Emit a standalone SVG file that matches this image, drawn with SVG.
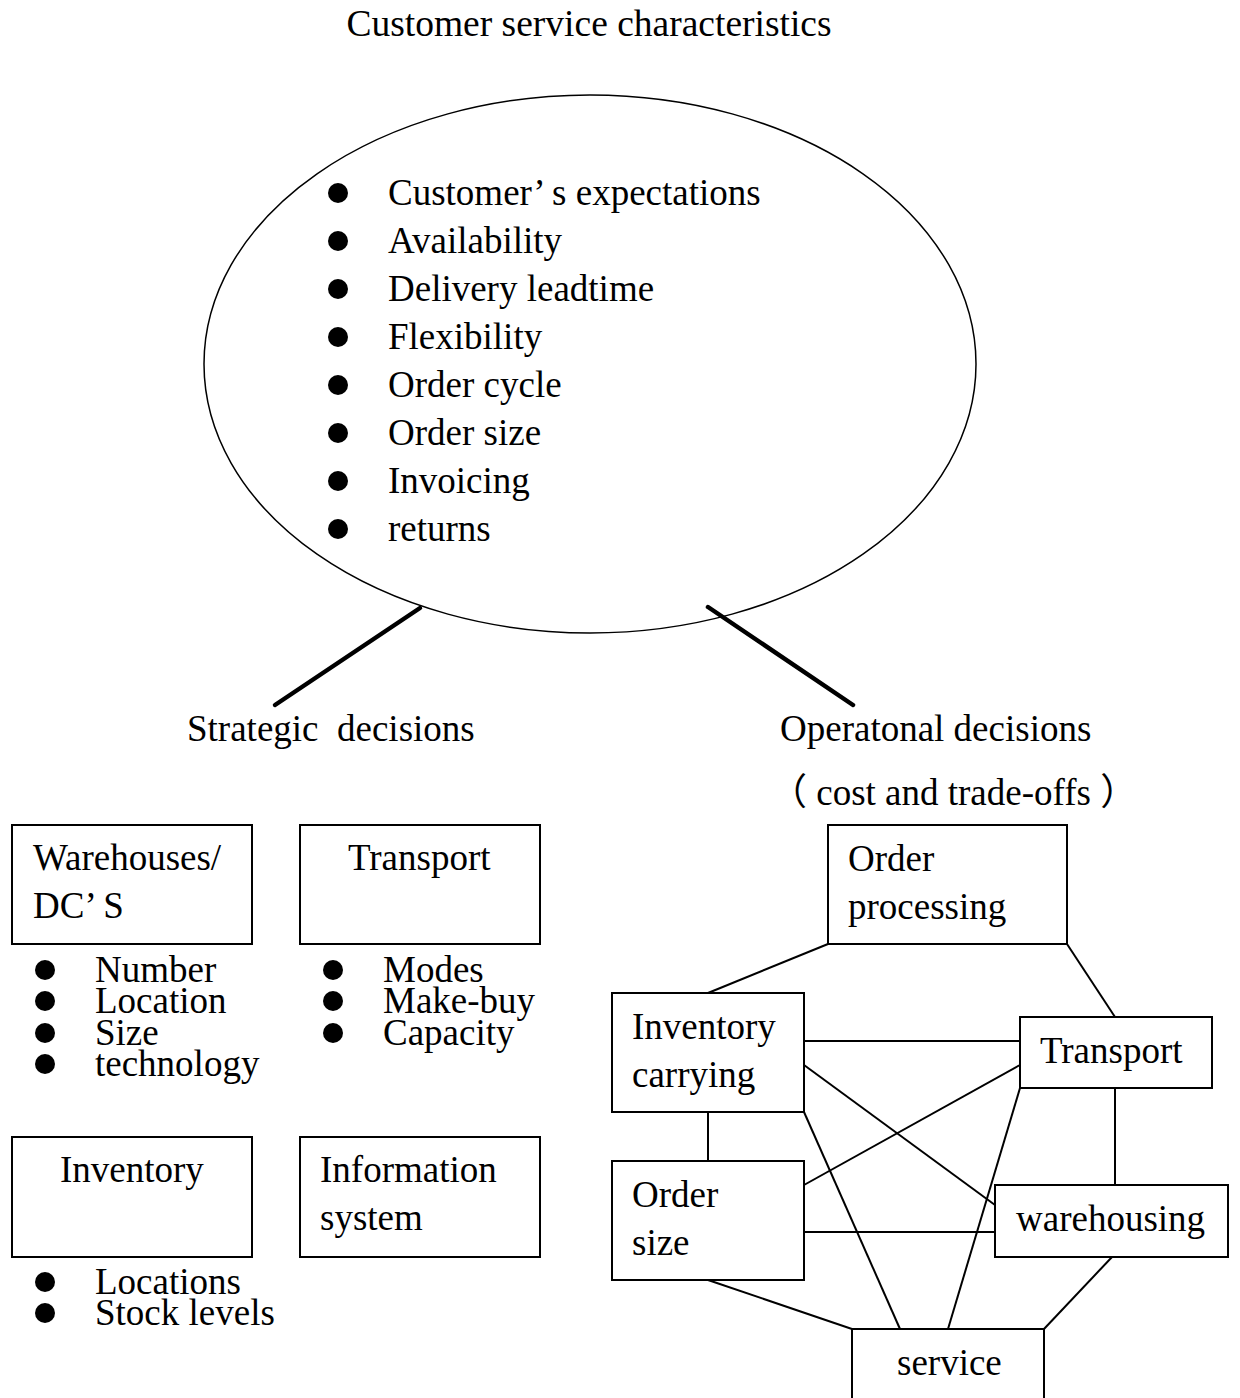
<svg xmlns="http://www.w3.org/2000/svg" width="1240" height="1398" viewBox="0 0 1240 1398">
  <style>
    text { font-family: "Liberation Serif", "Times New Roman", "Noto Sans CJK SC", serif; font-size: 37px; fill: #000; }
    .title { font-size: 37.5px; }
    .box { fill: #fff; stroke: #000; stroke-width: 2; }
    .link { stroke: #000; stroke-width: 2; fill: none; }
    .stem { stroke: #000; stroke-width: 4.5; stroke-linecap: round; fill: none; }
    .dot { fill: #000; }
  </style>
  <defs>
    <circle id="bullet" r="10" class="dot"/>
  </defs>
  <rect width="1240" height="1398" fill="#fff"/>

  <text class="title" x="589" y="36" text-anchor="middle">Customer service characteristics</text>

  <!-- customer service characteristics -->
  <g id="characteristics">
    <ellipse cx="590" cy="364" rx="386" ry="269" fill="none" stroke="#000" stroke-width="1.5"/>
    <use href="#bullet" x="338" y="193"/>
    <use href="#bullet" x="338" y="241"/>
    <use href="#bullet" x="338" y="289"/>
    <use href="#bullet" x="338" y="337"/>
    <use href="#bullet" x="338" y="385"/>
    <use href="#bullet" x="338" y="433"/>
    <use href="#bullet" x="338" y="481"/>
    <use href="#bullet" x="338" y="529"/>
    <text x="388" y="205">Customer’ s expectations</text>
    <text x="388" y="253">Availability</text>
    <text x="388" y="301">Delivery leadtime</text>
    <text x="388" y="349">Flexibility</text>
    <text x="388" y="397">Order cycle</text>
    <text x="388" y="445">Order size</text>
    <text x="388" y="493">Invoicing</text>
    <text x="388" y="541">returns</text>
  </g>

  <!-- branches to the two decision groups -->
  <g id="branches">
    <line class="stem" x1="420" y1="608" x2="275" y2="705"/>
    <line class="stem" x1="708" y1="607" x2="853" y2="705"/>
  </g>

  <text x="187" y="741" xml:space="preserve">Strategic  decisions</text>
  <text x="780" y="741">Operatonal decisions</text>
  <text x="770" y="805">（ cost and trade-offs ）</text>

  <!-- strategic decisions -->
  <g id="warehouses">
    <rect class="box" x="12" y="825" width="240" height="119"/>
    <text x="33" y="870">Warehouses/</text>
    <text x="33" y="918">DC’ S</text>
    <use href="#bullet" x="45" y="970"/>
    <use href="#bullet" x="45" y="1001"/>
    <use href="#bullet" x="45" y="1033"/>
    <use href="#bullet" x="45" y="1064"/>
    <text x="95" y="982">Number</text>
    <text x="95" y="1013">Location</text>
    <text x="95" y="1045">Size</text>
    <text x="95" y="1076">technology</text>
  </g>

  <g id="transport-strategic">
    <rect class="box" x="300" y="825" width="240" height="119"/>
    <text x="348" y="870">Transport</text>
    <use href="#bullet" x="333" y="970"/>
    <use href="#bullet" x="333" y="1001"/>
    <use href="#bullet" x="333" y="1033"/>
    <text x="383" y="982">Modes</text>
    <text x="383" y="1013">Make-buy</text>
    <text x="383" y="1045">Capacity</text>
  </g>

  <g id="inventory-strategic">
    <rect class="box" x="12" y="1137" width="240" height="120"/>
    <text x="60" y="1182">Inventory</text>
    <use href="#bullet" x="45" y="1282"/>
    <use href="#bullet" x="45" y="1313"/>
    <text x="95" y="1294">Locations</text>
    <text x="95" y="1325">Stock levels</text>
  </g>

  <g id="information-system">
    <rect class="box" x="300" y="1137" width="240" height="120"/>
    <text x="320" y="1182">Information</text>
    <text x="320" y="1230">system</text>
  </g>

  <!-- operational trade-off network -->
  <g id="connectors">
    <line class="link" x1="828" y1="944" x2="708" y2="993"/>
    <line class="link" x1="1067" y1="944" x2="1115" y2="1017"/>
    <line class="link" x1="804" y1="1041" x2="1020" y2="1041"/>
    <line class="link" x1="804" y1="1065" x2="995" y2="1205"/>
    <line class="link" x1="804" y1="1112" x2="900" y2="1329"/>
    <line class="link" x1="708" y1="1112" x2="708" y2="1161"/>
    <line class="link" x1="804" y1="1185" x2="1020" y2="1065"/>
    <line class="link" x1="804" y1="1232" x2="995" y2="1232"/>
    <line class="link" x1="1020" y1="1088" x2="948" y2="1329"/>
    <line class="link" x1="1115" y1="1088" x2="1115" y2="1185"/>
    <line class="link" x1="708" y1="1280" x2="852" y2="1329"/>
    <line class="link" x1="1112" y1="1257" x2="1044" y2="1329"/>
  </g>

  <g id="order-processing">
    <rect class="box" x="828" y="825" width="239" height="119"/>
    <text x="848" y="871">Order</text>
    <text x="848" y="919">processing</text>
  </g>

  <g id="inventory-carrying">
    <rect class="box" x="612" y="993" width="192" height="119"/>
    <text x="632" y="1039">Inventory</text>
    <text x="632" y="1087">carrying</text>
  </g>

  <g id="transport">
    <rect class="box" x="1020" y="1017" width="192" height="71"/>
    <text x="1040" y="1063">Transport</text>
  </g>

  <g id="order-size">
    <rect class="box" x="612" y="1161" width="192" height="119"/>
    <text x="632" y="1207">Order</text>
    <text x="632" y="1255">size</text>
  </g>

  <g id="warehousing">
    <rect class="box" x="995" y="1185" width="233" height="72"/>
    <text x="1016" y="1231">warehousing</text>
  </g>

  <g id="service">
    <rect class="box" x="852" y="1329" width="192" height="80"/>
    <text x="897" y="1375">service</text>
  </g>
</svg>
